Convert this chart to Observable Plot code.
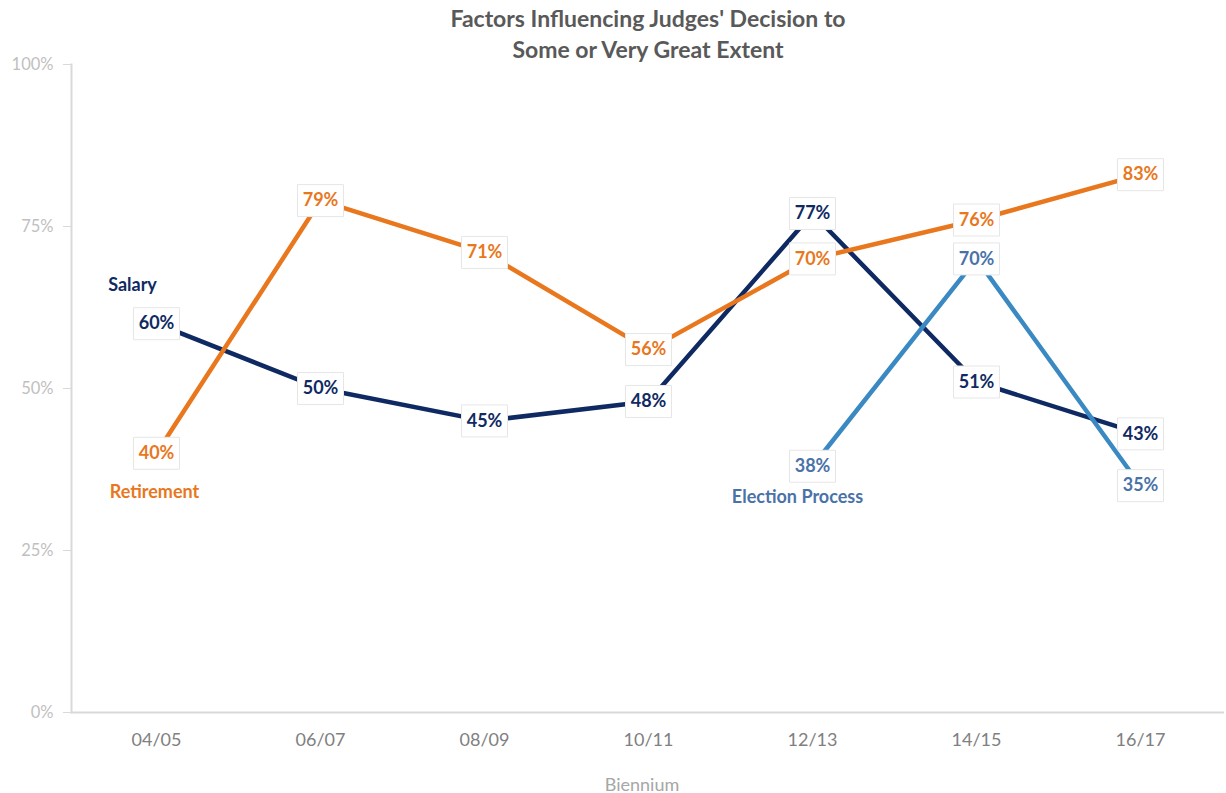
<!DOCTYPE html>
<html><head><meta charset="utf-8">
<script src="https://cdn.jsdelivr.net/npm/d3@7"></script>
<script src="https://cdn.jsdelivr.net/npm/@observablehq/plot@0.6"></script>
<style>
body{margin:0;background:#fff;font-family:Lato,"Open Sans",sans-serif}
#title{position:absolute;top:0;left:0;width:1226px;box-sizing:border-box;padding-left:70px;padding-top:3px;text-align:center;font-weight:bold;font-size:23px;line-height:31px;color:#595959}
#chart{padding-top:56px}
</style></head><body>
<div id="title">Factors Influencing Judges' Decision to<br>Some or Very Great Extent</div>
<div id="chart"></div>
<script>
const biennia = ["04/05", "06/07", "08/09", "10/11", "12/13", "14/15", "16/17"];
const seriesNames = ["Salary", "Retirement", "Election Process"];
const salary = [60, 50, 45, 48, 77, 51, 43];
const retirement = [40, 79, 71, 56, 70, 76, 83];
const electionProcess = [null, null, null, null, 38, 70, 35];
const yTicks = [0, 25, 50, 75, 100];
const xTitle = "Biennium";
// series name annotations
const annotations = [
  {series: "Salary", biennium: "04/05", value: 66},
  {series: "Retirement", biennium: "04/05", value: 34},
  {series: "Election Process", biennium: "12/13", value: 33.2}
];
const lineColors = {"Salary": "#0f2a62", "Retirement": "#e8771e", "Election Process": "#3a89c3"};
const textColors = {"Salary": "#0f2a62", "Retirement": "#e8771e", "Election Process": "#4a72a8"};
const annDx = {"Salary": -24, "Retirement": -2, "Election Process": -15};

const valuesBySeries = {"Salary": salary, "Retirement": retirement, "Election Process": electionProcess};
const rows = [];
for (const s of seriesNames) {
  valuesBySeries[s].forEach((v, i) => { if (v != null) rows.push({series: s, biennium: biennia[i], value: v}); });
}

const box = {draw(ctx) { ctx.rect(-23, -16, 46, 32); }};

const marks = [
  Plot.ruleY([0], {stroke: "#d9d9d9", strokeWidth: 2}),
  Plot.frame({anchor: "left", stroke: "#d9d9d9", strokeWidth: 2}),
  Plot.axisY({ticks: yTicks, tickFormat: d => d + "%", tickSize: 8, tickPadding: 10, stroke: "#d9d9d9", fill: "#bfbfbf", fontSize: 16.5, label: null}),
  Plot.axisX({tickSize: 0, tickPadding: 21, fill: "#808080", fontSize: 18, label: null}),
  Plot.text([xTitle], {text: d => d, frameAnchor: "bottom", dy: 73, dx: -6, fill: "#a6a6a6", fontSize: 18, lineAnchor: "middle"})
];
for (const s of seriesNames) {
  const d = rows.filter(r => r.series === s);
  marks.push(Plot.line(d, {x: "biennium", y: "value", stroke: lineColors[s], strokeWidth: 4.5}));
}
for (const s of seriesNames) {
  const d = rows.filter(r => r.series === s);
  marks.push(Plot.dot(d, {x: "biennium", y: "value", symbol: box, r: 10, fill: "white", stroke: "#e6e6e6", strokeWidth: 1}));
  marks.push(Plot.text(d, {x: "biennium", y: "value", text: r => r.value + "%", fill: textColors[s], fontSize: 18, fontWeight: "bold"}));
}
for (const a of annotations) {
  marks.push(Plot.text([a], {x: "biennium", y: "value", text: "series", dx: annDx[a.series], fill: textColors[a.series], fontSize: 18, fontWeight: "bold"}));
}

const chart = Plot.plot({
  width: 1226, height: 737,
  marginTop: 8, marginBottom: 81, marginLeft: 71, marginRight: 2,
  style: {fontFamily: "Lato, 'Open Sans', sans-serif", background: "transparent", overflow: "visible"},
  x: {type: "point", domain: biennia, padding: 0.5},
  y: {domain: [0, 100]},
  marks
});
document.getElementById("chart").appendChild(chart);
</script>
</body></html>
